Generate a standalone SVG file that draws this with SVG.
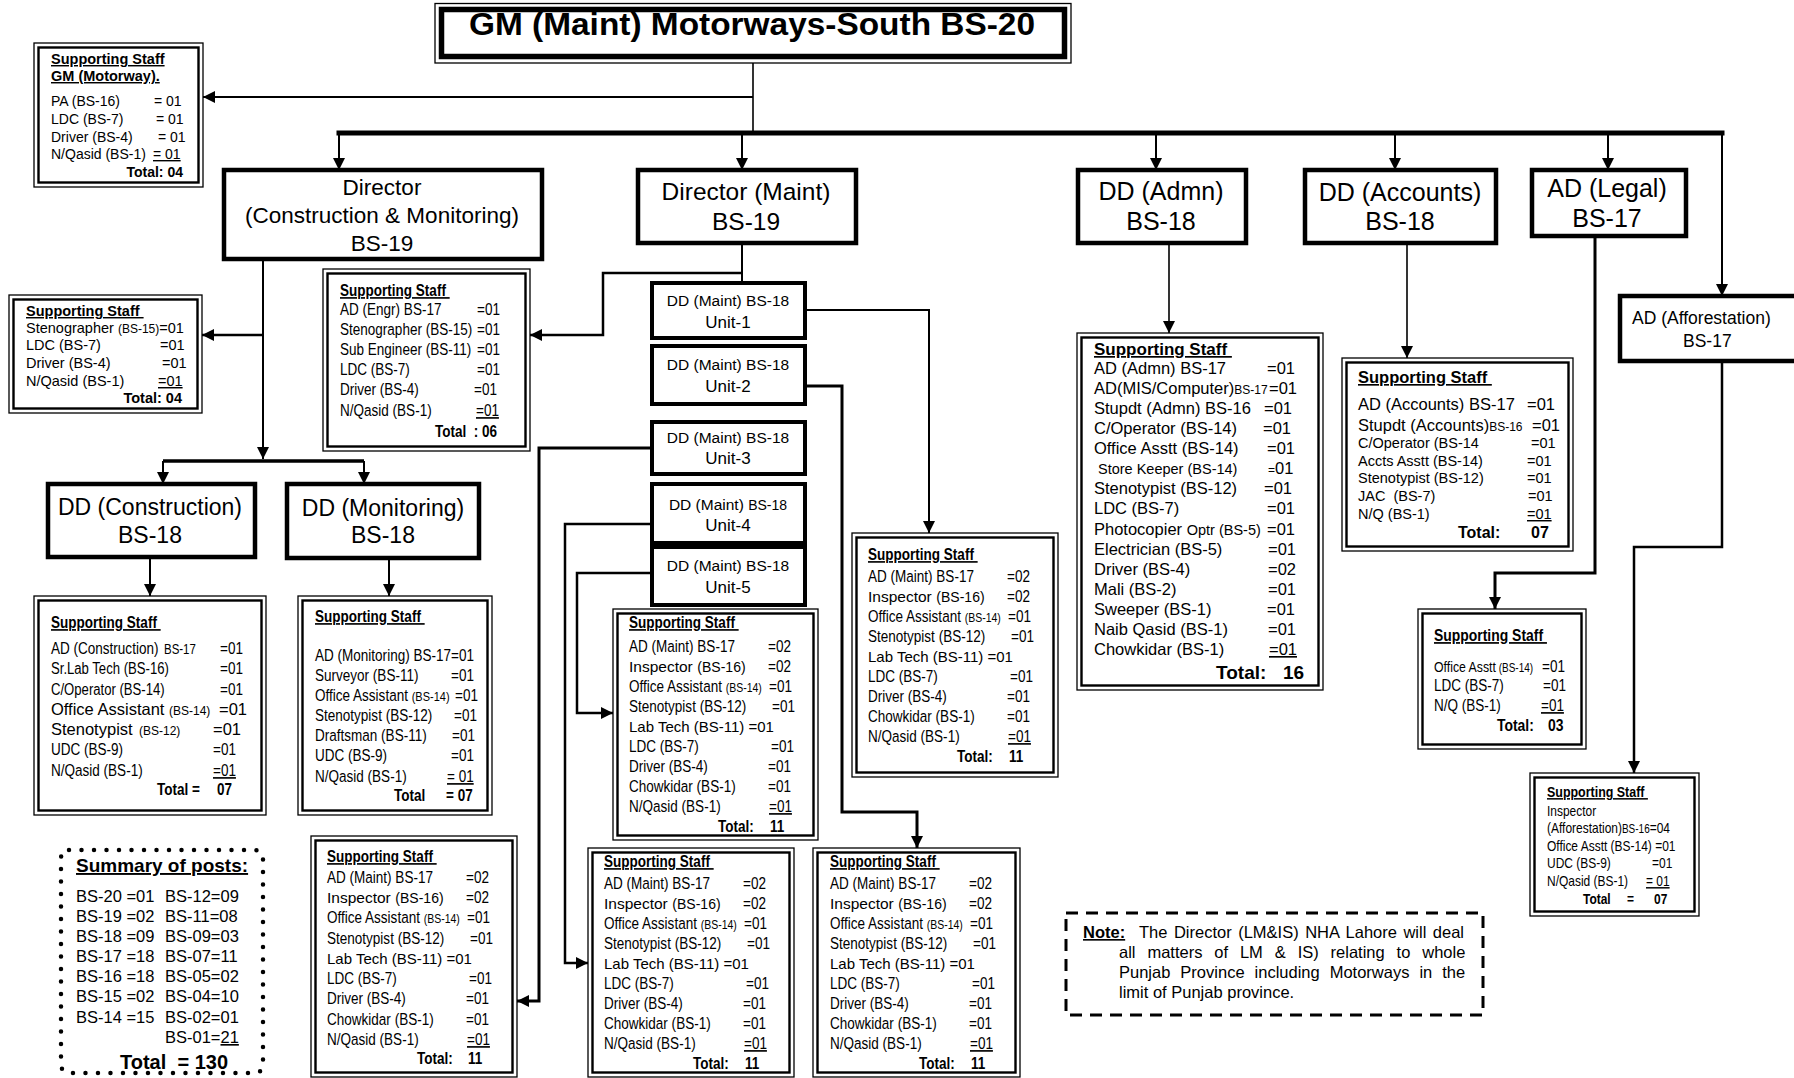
<svg xmlns="http://www.w3.org/2000/svg" width="1794" height="1078" viewBox="0 0 1794 1078">
<style>
text { font-family: "Liberation Sans", Arial, sans-serif; fill: #000; }
.h { font-weight: bold; text-decoration: underline; }
.b { font-weight: bold; }
.u { text-decoration: underline; }
.mid { text-anchor: middle; }
.n { transform-box: fill-box; transform-origin: 0 0; transform: scaleX(0.82); }
.o { fill: #fff; stroke: #000; stroke-width: 1.3; }
.i { fill: none; stroke: #000; stroke-width: 2.4; }
.k { fill: #fff; stroke: #000; stroke-width: 4.5; }
.ku { fill: #fff; stroke: #000; stroke-width: 4; }
</style>
<defs>
<marker id="ah" viewBox="0 0 10 10" refX="10" refY="5" markerWidth="12" markerHeight="12" markerUnits="userSpaceOnUse" orient="auto"><path d="M0,0 L10,5 L0,10 z" fill="#000"/></marker>
</defs>

<g id="connectors" fill="none" stroke="#000">
<path d="M753 63 V133" stroke-width="1.6"/>
<path d="M753 97 H203" stroke-width="2" marker-end="url(#ah)"/>
<path d="M339 133 H1722" stroke-width="5" stroke-linecap="square"/>
<path d="M339 133 V170" stroke-width="2" marker-end="url(#ah)"/>
<path d="M742 133 V170" stroke-width="2" marker-end="url(#ah)"/>
<path d="M1156 133 V170" stroke-width="2" marker-end="url(#ah)"/>
<path d="M1395 133 V170" stroke-width="2" marker-end="url(#ah)"/>
<path d="M1608 133 V170" stroke-width="2" marker-end="url(#ah)"/>
<path d="M1722 133 V296" stroke-width="2" marker-end="url(#ah)"/>
<path d="M263 259 V459" stroke-width="2" marker-end="url(#ah)"/>
<path d="M263 335 H202" stroke-width="2.5" marker-end="url(#ah)"/>
<path d="M163 461 H364" stroke-width="3.5"/>
<path d="M163 461 V484" stroke-width="2" marker-end="url(#ah)"/>
<path d="M364 461 V484" stroke-width="2" marker-end="url(#ah)"/>
<path d="M150 557 V596" stroke-width="2" marker-end="url(#ah)"/>
<path d="M389 560 V596" stroke-width="2" marker-end="url(#ah)"/>
<path d="M742 243 V283" stroke-width="2"/>
<path d="M742 273 H603 V335 H530" stroke-width="2.5" marker-end="url(#ah)"/>
<path d="M805 310 H929 V533" stroke-width="2" marker-end="url(#ah)"/>
<path d="M805 386 H842 V812 H917 V848" stroke-width="3" marker-end="url(#ah)"/>
<path d="M652 448 H539 V1001 H517" stroke-width="3" marker-end="url(#ah)"/>
<path d="M652 524 H565 V963 H588" stroke-width="2.5" marker-end="url(#ah)"/>
<path d="M652 573 H577 V713 H613" stroke-width="2.5" marker-end="url(#ah)"/>
<path d="M1169 243 V333" stroke-width="1.6" marker-end="url(#ah)"/>
<path d="M1407 243 V358" stroke-width="1.6" marker-end="url(#ah)"/>
<path d="M1595 236 V573 H1495 V609" stroke-width="3" marker-end="url(#ah)"/>
<path d="M1722 361 V547 H1634 V773" stroke-width="2.5" marker-end="url(#ah)"/>
</g>

<g id="gm">
<rect x="435" y="3.5" width="636" height="59.5" fill="#fff" stroke="#000" stroke-width="1.3"/>
<rect x="441.5" y="9.5" width="623" height="47" fill="none" stroke="#000" stroke-width="5.5"/>
<text x="752" y="35" class="b mid" font-size="32" textLength="566" lengthAdjust="spacingAndGlyphs">GM (Maint) Motorways-South BS-20</text>
</g>

<g id="gm-staff" font-size="14">
<rect class="o" x="34" y="43" width="169" height="144"/>
<rect class="i" x="38.5" y="47.5" width="160" height="135"/>
<text class="h" x="51" y="64" font-size="14.5">Supporting Staff</text>
<text class="h" x="51" y="81" font-size="14.5">GM (Motorway).</text>
<text x="51" y="106">PA (BS-16)<tspan x="154">= 01</tspan></text>
<text x="51" y="124">LDC (BS-7)<tspan x="156">= 01</tspan></text>
<text x="51" y="142">Driver (BS-4)<tspan x="158">= 01</tspan></text>
<text x="51" y="159">N/Qasid (BS-1)<tspan x="153" class="u">= 01</tspan></text>
<text x="183" y="177" class="b" text-anchor="end">Total: 04</text>
</g>

<g id="dir-cm">
<rect class="k" x="224" y="170" width="318" height="89"/>
<text x="382" y="195" class="mid" font-size="22.5">Director</text>
<text x="382" y="223" class="mid" font-size="22.5">(Construction &amp; Monitoring)</text>
<text x="382" y="251" class="mid" font-size="22.5">BS-19</text>
</g>

<g id="dir-maint">
<rect class="k" x="638" y="170" width="218" height="73"/>
<text x="746" y="200" class="mid" font-size="24.5">Director (Maint)</text>
<text x="746" y="230" class="mid" font-size="24.5">BS-19</text>
</g>

<g id="dd-admn">
<rect class="k" x="1078" y="170" width="168" height="73"/>
<text x="1161" y="200" class="mid" font-size="25">DD (Admn)</text>
<text x="1161" y="230" class="mid" font-size="25">BS-18</text>
</g>

<g id="dd-accounts">
<rect class="k" x="1305" y="170" width="191" height="73"/>
<text x="1400" y="201" class="mid" font-size="25">DD (Accounts)</text>
<text x="1400" y="230" class="mid" font-size="25">BS-18</text>
</g>

<g id="ad-legal">
<rect class="k" x="1532" y="170" width="154" height="66"/>
<text x="1607" y="197" class="mid" font-size="25">AD (Legal)</text>
<text x="1607" y="227" class="mid" font-size="25">BS-17</text>
</g>

<g id="ad-afforestation">
<rect class="k" x="1620" y="296" width="200" height="65"/>
<text x="1632" y="324" font-size="17.5">AD (Afforestation)</text>
<text x="1683" y="347" font-size="17.5">BS-17</text>
</g>

<g id="dir-cm-staff-left" font-size="14.5">
<rect class="o" x="9" y="295" width="193" height="118"/>
<rect class="i" x="13.5" y="299.5" width="184" height="109"/>
<text class="h" x="26" y="316">Supporting Staff&#160;</text>
<text x="26" y="333">Stenographer <tspan font-size="12">(BS-15)</tspan>=01</text>
<text x="26" y="350">LDC (BS-7)<tspan x="160">=01</tspan></text>
<text x="26" y="368">Driver (BS-4)<tspan x="162">=01</tspan></text>
<text x="26" y="386">N/Qasid (BS-1)<tspan x="158" class="u">=01</tspan></text>
<text x="182" y="403" class="b" text-anchor="end">Total: 04</text>
</g>

<g id="dir-cm-staff" font-size="16.5">
<rect class="o" x="323" y="269" width="207" height="182"/>
<rect class="i" x="327.5" y="273.5" width="198" height="173"/>
<text class="h n" x="340" y="296">Supporting Staff&#160;</text>
<text class="n" x="340" y="315">AD (Engr) BS-17</text><text class="n" x="477" y="315">=01</text>
<text class="n" x="340" y="335">Stenographer (BS-15)</text><text class="n" x="477" y="335">=01</text>
<text class="n" x="340" y="355">Sub Engineer (BS-11)</text><text class="n" x="477" y="355">=01</text>
<text class="n" x="340" y="375">LDC (BS-7)</text><text class="n" x="477" y="375">=01</text>
<text class="n" x="340" y="395">Driver (BS-4)</text><text class="n" x="474" y="395">=01</text>
<text class="n" x="340" y="416">N/Qasid (BS-1)</text><text class="n u" x="476" y="416">=01</text>
<text class="b n" x="435" y="437">Total&#160;&#160;: 06</text>
</g>

<g id="dd-construction">
<rect class="k" x="48" y="484" width="207" height="73"/>
<text x="150" y="515" class="mid" font-size="23">DD (Construction)</text>
<text x="150" y="543" class="mid" font-size="23">BS-18</text>
</g>

<g id="dd-monitoring">
<rect class="k" x="287" y="484" width="192" height="74"/>
<text x="383" y="516" class="mid" font-size="23">DD (Monitoring)</text>
<text x="383" y="543" class="mid" font-size="23">BS-18</text>
</g>

<g id="dd-construction-staff" font-size="16.5">
<rect class="o" x="34" y="596" width="232" height="219"/>
<rect class="i" x="38.5" y="600.5" width="223" height="210"/>
<text class="h n" x="51" y="628">Supporting Staff&#160;</text>
<text class="n" x="51" y="654">AD (Construction)</text><text class="n" x="164" y="654" font-size="14">BS-17</text><text class="n" x="220" y="654">=01</text>
<text class="n" x="51" y="674" font-size="16">Sr.Lab Tech (BS-16)</text><text class="n" x="220" y="674">=01</text>
<text class="n" x="51" y="695" font-size="16">C/Operator (BS-14)</text><text class="n" x="220" y="695">=01</text>
<text x="51" y="715">Office Assistant <tspan font-size="12">(BS-14)</tspan></text><text x="219" y="715">=01</text>
<text x="51" y="735">Stenotypist <tspan x="139" font-size="12">(BS-12)</tspan></text><text x="213" y="735">=01</text>
<text class="n" x="51" y="755">UDC (BS-9)</text><text class="n" x="213" y="755">=01</text>
<text class="n" x="51" y="776">N/Qasid (BS-1)</text><text class="n u" x="213" y="776">=01</text>
<text class="b n" x="157" y="795">Total =</text><text class="b n" x="217" y="795">07</text>
</g>

<g id="dd-monitoring-staff" font-size="16.5">
<rect class="o" x="298" y="596" width="194" height="219"/>
<rect class="i" x="302.5" y="600.5" width="185" height="210"/>
<text class="h n" x="315" y="622">Supporting Staff&#160;</text>
<text class="n" x="315" y="661">AD (Monitoring) BS-17=01</text>
<text class="n" x="315" y="681">Surveyor (BS-11)</text><text class="n" x="451" y="681">=01</text>
<text class="n" x="315" y="701">Office Assistant <tspan font-size="13.4">(BS-14)</tspan></text><text class="n" x="455" y="701">=01</text>
<text class="n" x="315" y="721">Stenotypist (BS-12)</text><text class="n" x="454" y="721">=01</text>
<text class="n" x="315" y="741">Draftsman (BS-11)</text><text class="n" x="452" y="741">=01</text>
<text class="n" x="315" y="761">UDC (BS-9)</text><text class="n" x="451" y="761">=01</text>
<text class="n" x="315" y="782">N/Qasid (BS-1)</text><text class="n u" x="447" y="782">= 01</text>
<text class="b n" x="394" y="801">Total</text><text class="b n" x="446" y="801">= 07</text>
</g>

<g id="summary" font-size="16.5">
<rect x="61" y="850" width="202" height="223" rx="8" fill="none" stroke="#000" stroke-width="4.5" stroke-dasharray="0 12.5" stroke-linecap="round"/>
<text class="h" x="76" y="872" font-size="19">Summary of posts:</text>
<text x="76" y="902">BS-20 =01<tspan x="165">BS-12=09</tspan></text>
<text x="76" y="922">BS-19 =02<tspan x="165">BS-11=08</tspan></text>
<text x="76" y="942">BS-18 =09<tspan x="165">BS-09=03</tspan></text>
<text x="76" y="962">BS-17 =18<tspan x="165">BS-07=11</tspan></text>
<text x="76" y="982">BS-16 =18<tspan x="165">BS-05=02</tspan></text>
<text x="76" y="1002">BS-15 =02<tspan x="165">BS-04=10</tspan></text>
<text x="76" y="1023">BS-14 =15<tspan x="165">BS-02=01</tspan></text>
<text x="165" y="1043">BS-01=<tspan class="u">21</tspan></text>
<text x="120" y="1069" class="b" font-size="20">Total&#160; = 130</text>
</g>

<g id="unit-1">
<rect class="ku" x="652" y="283" width="153" height="55"/>
<text x="728" y="306" class="mid" font-size="15.5">DD (Maint) BS-18</text>
<text x="728" y="328" class="mid" font-size="17">Unit-1</text>
</g>
<g id="unit-2">
<rect class="ku" x="652" y="346" width="153" height="58"/>
<text x="728" y="370" class="mid" font-size="15.5">DD (Maint) BS-18</text>
<text x="728" y="392" class="mid" font-size="17">Unit-2</text>
</g>
<g id="unit-3">
<rect class="ku" x="652" y="422" width="153" height="52"/>
<text x="728" y="443" class="mid" font-size="15.5">DD (Maint) BS-18</text>
<text x="728" y="464" class="mid" font-size="17">Unit-3</text>
</g>
<g id="unit-4">
<rect class="ku" x="652" y="484" width="153" height="59"/>
<text x="728" y="510" class="mid" font-size="15.5">DD (Maint) <tspan font-size="14">BS-18</tspan></text>
<text x="728" y="531" class="mid" font-size="17">Unit-4</text>
</g>
<g id="unit-5">
<rect class="ku" x="652" y="547" width="153" height="58"/>
<text x="728" y="571" class="mid" font-size="15.5">DD (Maint) BS-18</text>
<text x="728" y="593" class="mid" font-size="17">Unit-5</text>
</g>

<g id="unit-1-staff" font-size="16.5">
<rect class="o" x="852" y="533" width="206" height="244"/>
<rect class="i" x="856.5" y="537.5" width="197" height="235"/>
<text class="h n" x="868" y="560">Supporting Staff&#160;</text>
<text class="n" x="868" y="582">AD (Maint) BS-17</text><text class="n" x="1007" y="582">=02</text>
<text x="868" y="602"><tspan font-size="15.5">Inspector</tspan> <tspan font-size="14">(BS-16)</tspan></text><text class="n" x="1007" y="602">=02</text>
<text class="n" x="868" y="622">Office Assistant <tspan font-size="12.8">(BS-14)</tspan></text><text class="n" x="1008" y="622">=01</text>
<text class="n" x="868" y="642">Stenotypist (BS-12)</text><text class="n" x="1011" y="642">=01</text>
<text x="868" y="662" font-size="15">Lab Tech (BS-11) =01</text>
<text class="n" x="868" y="682">LDC (BS-7)</text><text class="n" x="1010" y="682">=01</text>
<text class="n" x="868" y="702">Driver (BS-4)</text><text class="n" x="1007" y="702">=01</text>
<text class="n" x="868" y="722">Chowkidar (BS-1)</text><text class="n" x="1007" y="722">=01</text>
<text class="n" x="868" y="742">N/Qasid (BS-1)</text><text class="n u" x="1008" y="742">=01</text>
<text class="b n" x="957" y="762">Total:</text><text class="b n" x="1009" y="762">11</text>
</g>

<g id="unit-5-staff" font-size="16.5">
<rect class="o" x="613" y="609" width="205" height="231"/>
<rect class="i" x="617.5" y="613.5" width="196" height="222"/>
<text class="h n" x="629" y="628">Supporting Staff&#160;</text>
<text class="n" x="629" y="652">AD (Maint) BS-17</text><text class="n" x="768" y="652">=02</text>
<text x="629" y="672"><tspan font-size="15.5">Inspector</tspan> <tspan font-size="14">(BS-16)</tspan></text><text class="n" x="768" y="672">=02</text>
<text class="n" x="629" y="692">Office Assistant <tspan font-size="12.8">(BS-14)</tspan></text><text class="n" x="769" y="692">=01</text>
<text class="n" x="629" y="712">Stenotypist (BS-12)</text><text class="n" x="772" y="712">=01</text>
<text x="629" y="732" font-size="15">Lab Tech (BS-11) =01</text>
<text class="n" x="629" y="752">LDC (BS-7)</text><text class="n" x="771" y="752">=01</text>
<text class="n" x="629" y="772">Driver (BS-4)</text><text class="n" x="768" y="772">=01</text>
<text class="n" x="629" y="792">Chowkidar (BS-1)</text><text class="n" x="768" y="792">=01</text>
<text class="n" x="629" y="812">N/Qasid (BS-1)</text><text class="n u" x="769" y="812">=01</text>
<text class="b n" x="718" y="832">Total:</text><text class="b n" x="770" y="832">11</text>
</g>

<g id="unit-3-staff" font-size="16.5">
<rect class="o" x="311" y="836" width="206" height="241"/>
<rect class="i" x="315.5" y="840.5" width="197" height="232"/>
<text class="h n" x="327" y="862">Supporting Staff&#160;</text>
<text class="n" x="327" y="883">AD (Maint) BS-17</text><text class="n" x="466" y="883">=02</text>
<text x="327" y="903"><tspan font-size="15.5">Inspector</tspan> <tspan font-size="14">(BS-16)</tspan></text><text class="n" x="466" y="903">=02</text>
<text class="n" x="327" y="923">Office Assistant <tspan font-size="12.8">(BS-14)</tspan></text><text class="n" x="467" y="923">=01</text>
<text class="n" x="327" y="944">Stenotypist (BS-12)</text><text class="n" x="470" y="944">=01</text>
<text x="327" y="964" font-size="15">Lab Tech (BS-11) =01</text>
<text class="n" x="327" y="984">LDC (BS-7)</text><text class="n" x="469" y="984">=01</text>
<text class="n" x="327" y="1004">Driver (BS-4)</text><text class="n" x="466" y="1004">=01</text>
<text class="n" x="327" y="1025">Chowkidar (BS-1)</text><text class="n" x="466" y="1025">=01</text>
<text class="n" x="327" y="1045">N/Qasid (BS-1)</text><text class="n u" x="467" y="1045">=01</text>
<text class="b n" x="417" y="1064">Total:</text><text class="b n" x="468" y="1064">11</text>
</g>

<g id="unit-4-staff" font-size="16.5">
<rect class="o" x="588" y="848" width="206" height="229"/>
<rect class="i" x="592.5" y="852.5" width="197" height="220"/>
<text class="h n" x="604" y="867">Supporting Staff&#160;</text>
<text class="n" x="604" y="889">AD (Maint) BS-17</text><text class="n" x="743" y="889">=02</text>
<text x="604" y="909"><tspan font-size="15.5">Inspector</tspan> <tspan font-size="14">(BS-16)</tspan></text><text class="n" x="743" y="909">=02</text>
<text class="n" x="604" y="929">Office Assistant <tspan font-size="12.8">(BS-14)</tspan></text><text class="n" x="744" y="929">=01</text>
<text class="n" x="604" y="949">Stenotypist (BS-12)</text><text class="n" x="747" y="949">=01</text>
<text x="604" y="969" font-size="15">Lab Tech (BS-11) =01</text>
<text class="n" x="604" y="989">LDC (BS-7)</text><text class="n" x="746" y="989">=01</text>
<text class="n" x="604" y="1009">Driver (BS-4)</text><text class="n" x="743" y="1009">=01</text>
<text class="n" x="604" y="1029">Chowkidar (BS-1)</text><text class="n" x="743" y="1029">=01</text>
<text class="n" x="604" y="1049">N/Qasid (BS-1)</text><text class="n u" x="744" y="1049">=01</text>
<text class="b n" x="693" y="1069">Total:</text><text class="b n" x="745" y="1069">11</text>
</g>

<g id="unit-2-staff" font-size="16.5">
<rect class="o" x="813" y="848" width="207" height="229"/>
<rect class="i" x="817.5" y="852.5" width="198" height="220"/>
<text class="h n" x="830" y="867">Supporting Staff&#160;</text>
<text class="n" x="830" y="889">AD (Maint) BS-17</text><text class="n" x="969" y="889">=02</text>
<text x="830" y="909"><tspan font-size="15.5">Inspector</tspan> <tspan font-size="14">(BS-16)</tspan></text><text class="n" x="969" y="909">=02</text>
<text class="n" x="830" y="929">Office Assistant <tspan font-size="12.8">(BS-14)</tspan></text><text class="n" x="970" y="929">=01</text>
<text class="n" x="830" y="949">Stenotypist (BS-12)</text><text class="n" x="973" y="949">=01</text>
<text x="830" y="969" font-size="15">Lab Tech (BS-11) =01</text>
<text class="n" x="830" y="989">LDC (BS-7)</text><text class="n" x="972" y="989">=01</text>
<text class="n" x="830" y="1009">Driver (BS-4)</text><text class="n" x="969" y="1009">=01</text>
<text class="n" x="830" y="1029">Chowkidar (BS-1)</text><text class="n" x="969" y="1029">=01</text>
<text class="n" x="830" y="1049">N/Qasid (BS-1)</text><text class="n u" x="970" y="1049">=01</text>
<text class="b n" x="919" y="1069">Total:</text><text class="b n" x="971" y="1069">11</text>
</g>

<g id="dd-admn-staff" font-size="16.5">
<rect class="o" x="1077" y="333" width="246" height="357"/>
<rect class="i" x="1081.5" y="337.5" width="237" height="348"/>
<text class="h" x="1094" y="355" font-size="17">Supporting Staff&#160;</text>
<text x="1094" y="374">AD (Admn) BS-17<tspan x="1267">=01</tspan></text>
<text x="1094" y="394">AD(MIS/Computer)<tspan font-size="12">BS-17</tspan><tspan x="1269">=01</tspan></text>
<text x="1094" y="414">Stupdt (Admn) BS-16<tspan x="1264">=01</tspan></text>
<text x="1094" y="434">C/Operator (BS-14)<tspan x="1263">=01</tspan></text>
<text x="1094" y="454">Office Asstt (BS-14)<tspan x="1267">=01</tspan></text>
<text x="1098" y="474" font-size="14.5">Store Keeper (BS-14)<tspan x="1268" font-size="12">=</tspan><tspan font-size="16.5">01</tspan></text>
<text x="1094" y="494">Stenotypist (BS-12)<tspan x="1264">=01</tspan></text>
<text x="1094" y="514">LDC (BS-7)<tspan x="1267">=01</tspan></text>
<text x="1094" y="535">Photocopier <tspan font-size="14.5">Optr (BS-5)</tspan><tspan x="1267">=01</tspan></text>
<text x="1094" y="555">Electrician (BS-5)<tspan x="1268">=01</tspan></text>
<text x="1094" y="575">Driver (BS-4)<tspan x="1268">=02</tspan></text>
<text x="1094" y="595">Mali (BS-2)<tspan x="1268">=01</tspan></text>
<text x="1094" y="615">Sweeper (BS-1)<tspan x="1267">=01</tspan></text>
<text x="1094" y="635">Naib Qasid (BS-1)<tspan x="1268">=01</tspan></text>
<text x="1094" y="655">Chowkidar (BS-1)<tspan x="1269" class="u">=01</tspan></text>
<text x="1216" y="679" class="b" font-size="19">Total:<tspan x="1283">16</tspan></text>
</g>

<g id="dd-accounts-staff" font-size="14.5">
<rect class="o" x="1342" y="358" width="231" height="193"/>
<rect class="i" x="1346.5" y="362.5" width="222" height="184"/>
<text class="h" x="1358" y="383" font-size="16.5">Supporting Staff&#160;</text>
<text x="1358" y="410" font-size="16.5">AD (Accounts) BS-17<tspan x="1527">=01</tspan></text>
<text x="1358" y="431" font-size="16.5">Stupdt (Accounts)<tspan font-size="12">BS-16</tspan><tspan x="1532">=01</tspan></text>
<text x="1358" y="448">C/Operator (BS-14<tspan x="1531">=01</tspan></text>
<text x="1358" y="466">Accts Asstt (BS-14)<tspan x="1527">=01</tspan></text>
<text x="1358" y="483">Stenotypist (BS-12)<tspan x="1527">=01</tspan></text>
<text x="1358" y="501">JAC&#160; (BS-7)<tspan x="1528">=01</tspan></text>
<text x="1358" y="519">N/Q (BS-1)<tspan x="1527" class="u">=01</tspan></text>
<text x="1458" y="538" class="b" font-size="16">Total:<tspan x="1531">07</tspan></text>
</g>

<g id="ad-legal-staff" font-size="16.5">
<rect class="o" x="1418" y="609" width="168" height="140"/>
<rect class="i" x="1422.5" y="613.5" width="159" height="131"/>
<text class="h n" x="1434" y="641" font-size="17">Supporting Staff&#160;</text>
<text class="n" x="1434" y="672" font-size="15">Office Asstt<tspan font-size="12.2"> (BS-14)</tspan></text><text class="n" x="1542" y="672">=01</text>
<text class="n" x="1434" y="691">LDC (BS-7)</text><text class="n" x="1543" y="691">=01</text>
<text class="n" x="1434" y="711">N/Q (BS-1)</text><text class="n u" x="1541" y="711">=01</text>
<text class="b n" x="1497" y="731" font-size="17">Total:</text><text class="b n" x="1548" y="731" font-size="17">03</text>
</g>

<g id="ad-afforestation-staff" font-size="14.6">
<rect class="o" x="1530" y="773" width="169" height="143"/>
<rect class="i" x="1534.5" y="777.5" width="160" height="134"/>
<text class="h n" x="1547" y="797" font-size="15.2">Supporting Staff&#160;</text>
<text class="n" x="1547" y="816">Inspector</text>
<text class="n" x="1547" y="833">(Afforestation)<tspan font-size="12.2">BS-16</tspan>=04</text>
<text class="n" x="1547" y="851">Office Asstt (BS-14) =01</text>
<text class="n" x="1547" y="868">UDC (BS-9)</text><text class="n" x="1652" y="868">=01</text>
<text class="n" x="1547" y="886">N/Qasid (BS-1)</text><text class="n u" x="1646" y="886">= 01</text>
<text class="b n" x="1583" y="904">Total</text><text class="b n" x="1627" y="904">=</text><text class="b n" x="1654" y="904">07</text>
</g>

<g id="note" font-size="16.5">
<rect x="1066" y="913" width="417" height="102" fill="none" stroke="#000" stroke-width="3" stroke-dasharray="12 8"/>
<text class="h" x="1083" y="938">Note:</text>
<text x="1139" y="938" word-spacing="1.9">The Director (LM&amp;IS) NHA Lahore will deal</text>
<text x="1119" y="958" word-spacing="7.3">all matters of LM &amp; IS) relating to whole</text>
<text x="1119" y="978" word-spacing="5.4">Punjab Province including Motorways in the</text>
<text x="1119" y="998">limit of Punjab province.</text>
</g>
</svg>
